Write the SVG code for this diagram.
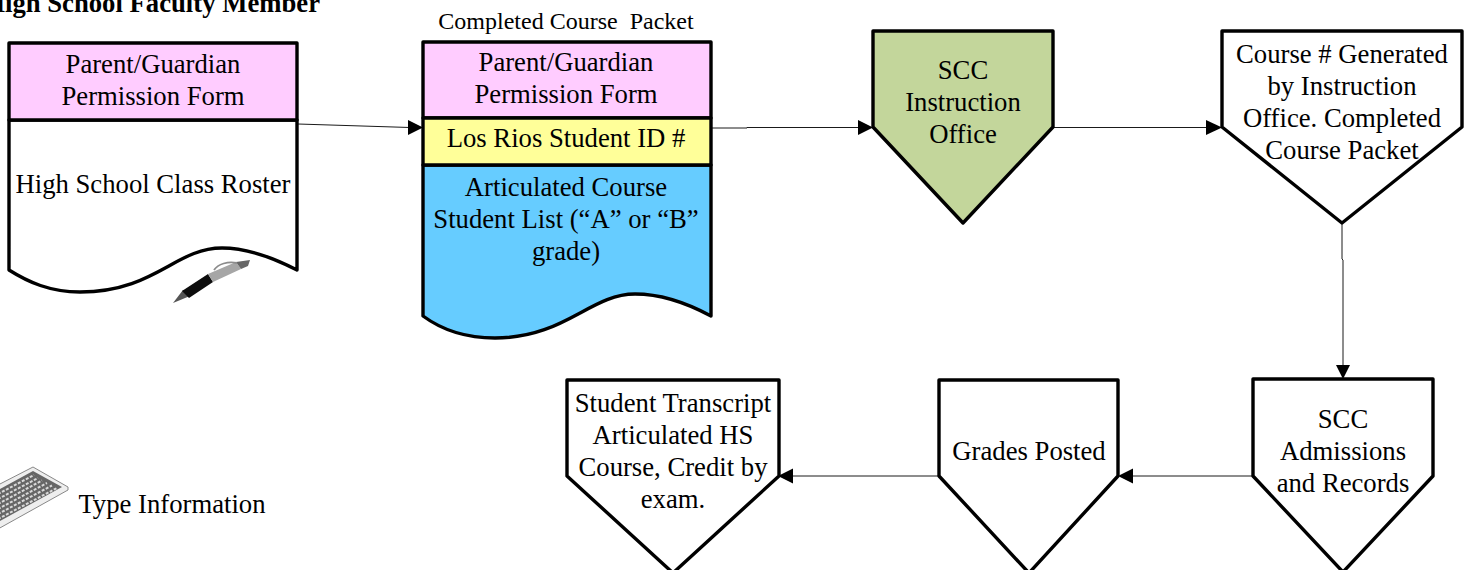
<svg xmlns="http://www.w3.org/2000/svg" width="1470" height="570" viewBox="0 0 1470 570">
<style>
text{font-family:"Liberation Serif","Times New Roman",serif;font-size:26.7px;fill:#000;text-anchor:middle}
.s{stroke:#000;stroke-width:3.400;stroke-linejoin:round;fill:#fff}
.c{stroke:#1a1a1a;stroke-width:1;fill:none}
.a{fill:#000;stroke:none}
</style>
<rect width="1470" height="570" fill="#fff"/>
<text id="title" x="320" y="12" style="font-weight:bold;font-size:26.7px;text-anchor:end">High School Faculty Member</text>
<g id="connectors">
<path class="c" d="M298 124L410 127.500"/><path class="a" d="M408 120L423 127.500L408 135Z"/>
<path class="c" d="M712 128H747V127.500H860"/><path class="a" d="M858 120L873 127.500L858 135Z"/>
<path class="c" d="M1054 127.500H1208"/><path class="a" d="M1206 120L1222 127.500L1206 135Z"/>
<path class="c" d="M1342 223V259L1343 260V366"/><path class="a" d="M1336 365L1343 379L1350 365Z"/>
<path class="c" d="M1253 476H1132"/><path class="a" d="M1133 468.500L1118 476L1133 483.500Z"/>
<path class="c" d="M939 476H792"/><path class="a" d="M793 468.500L778 476L793 483.500Z"/>
</g>
<g id="roster">
<path class="s" d="M9 120H297V270C270 256 245 248 222 248C175 248 155 292 80 292C50 292 28 282 9 270Z"/>
<rect class="s" x="9" y="43" width="288" height="77" style="fill:#ffccff"/>
<text x="153" y="73">Parent/Guardian</text>
<text x="153" y="105">Permission Form</text>
<text x="153" y="193">High School Class Roster</text>
</g>
<g id="pen">
<path d="M173 303L183 290L190 296Z" fill="#555"/>
<path d="M182 291L208 274L213 282L189 298Z" fill="#0d0d0d"/>
<path d="M208 274L236 262L241 269L213 282Z" fill="#a6a6a6"/>
<path d="M236 262L250 260L248 266L241 269Z" fill="#666"/>
<path d="M214 270C218 264 228 261 237 263" fill="none" stroke="#8c8c8c" stroke-width="1.800"/>
</g>
<g id="packet">
<text x="566" y="29" style="font-size:24px" xml:space="preserve">Completed Course  Packet</text>
<path class="s" style="fill:#66ccff" d="M423 165H711V316C685 302 660 294 635 294C590 294 565 338 495 338C465 338 442 330 423 316Z"/>
<rect class="s" x="423" y="42" width="288" height="76" style="fill:#ffccff"/>
<rect class="s" x="423" y="118" width="288" height="47" style="fill:#ffff99"/>
<text x="566" y="71">Parent/Guardian</text>
<text x="566" y="103">Permission Form</text>
<text x="566" y="147">Los Rios Student ID #</text>
<text x="566" y="196">Articulated Course</text>
<text x="566" y="228">Student List (“A” or “B”</text>
<text x="566" y="260">grade)</text>
</g>
<g id="instruction">
<path class="s" style="fill:#c3d69b" d="M873 31H1053V127L963 223L873 127Z"/>
<text x="963" y="79">SCC</text>
<text x="963" y="111">Instruction</text>
<text x="963" y="143">Office</text>
</g>
<g id="course-number">
<path class="s" d="M1222 31H1462V127L1342 223L1222 127Z"/>
<text x="1342" y="63">Course # Generated</text>
<text x="1342" y="95">by Instruction</text>
<text x="1342" y="127">Office. Completed</text>
<text x="1342" y="159">Course Packet</text>
</g>
<g id="admissions">
<path class="s" d="M1253 379H1433V476L1343 572L1253 476Z"/>
<text x="1343" y="428">SCC</text>
<text x="1343" y="460">Admissions</text>
<text x="1343" y="492">and Records</text>
</g>
<g id="grades">
<path class="s" d="M939 380H1118V476L1029 573L939 476Z"/>
<text x="1029" y="460">Grades Posted</text>
</g>
<g id="transcript">
<path class="s" d="M567 380H779V476L673 573L567 476Z"/>
<text x="673" y="412">Student Transcript</text>
<text x="673" y="444">Articulated HS</text>
<text x="673" y="476">Course, Credit by</text>
<text x="673" y="508">exam.</text>
</g>
<g id="keyboard">
<path d="M-2 485L33 467L68 487V490L-2 529Z" fill="#eee" stroke="#888" stroke-width="1"/>
<path d="M-2 490L33 471L62 487L-2 522Z" fill="#666"/>
<path d="M-2 494L34 475M-2 499L38 478M-2 504L42 480.500M-2 509L47 483M-2 514L52 485.500M-2 519L57 488" stroke="#d9d9d9" stroke-width="2" stroke-dasharray="3 1.500" fill="none"/>
<text x="172" y="513">Type Information</text>
</g>
</svg>
